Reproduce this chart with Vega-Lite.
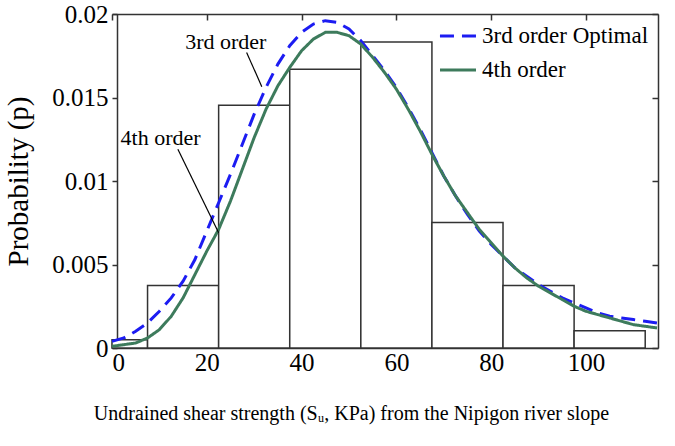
{
  "$schema": "https://vega.github.io/schema/vega-lite/v6.json",
  "width": 546,
  "height": 334,
  "autosize": {"type": "none"},
  "padding": {"left": 112, "top": 14, "right": 17, "bottom": 98},
  "background": "white",
  "config": {
    "view": {"stroke": null},
    "font": "'Liberation Serif', 'Times New Roman', serif",
    "axis": {
      "labelFont": "'Liberation Serif', 'Times New Roman', serif",
      "titleFont": "'Liberation Serif', 'Times New Roman', serif",
      "labelColor": "black",
      "titleColor": "black",
      "domainColor": "#333333",
      "tickColor": "#333333",
      "domainWidth": 1.5,
      "tickWidth": 1.5,
      "grid": false,
      "labelFontSize": 25,
      "titleFontWeight": "normal"
    },
    "legend": {
      "labelFont": "'Liberation Serif', 'Times New Roman', serif"
    },
    "text": {"font": "'Liberation Serif', 'Times New Roman', serif"}
  },
  "datasets": {
    "bins": [
      {"lo": 0, "hi": 7.5, "p": 0.0005},
      {"lo": 7.5, "hi": 22.5, "p": 0.00374},
      {"lo": 22.5, "hi": 37.5, "p": 0.01453},
      {"lo": 37.5, "hi": 52.5, "p": 0.01669},
      {"lo": 52.5, "hi": 67.5, "p": 0.01832},
      {"lo": 67.5, "hi": 82.5, "p": 0.00751},
      {"lo": 82.5, "hi": 97.5, "p": 0.00374},
      {"lo": 97.5, "hi": 112.5, "p": 0.00104}
    ],
    "curves": [
      {"s": 0, "series": "3rd order Optimal", "p": 0.0004},
      {"s": 2.5, "series": "3rd order Optimal", "p": 0.0006},
      {"s": 5, "series": "3rd order Optimal", "p": 0.0010},
      {"s": 7.5, "series": "3rd order Optimal", "p": 0.0015},
      {"s": 10, "series": "3rd order Optimal", "p": 0.0022},
      {"s": 12.5, "series": "3rd order Optimal", "p": 0.0030},
      {"s": 15, "series": "3rd order Optimal", "p": 0.0040},
      {"s": 17.5, "series": "3rd order Optimal", "p": 0.0053},
      {"s": 20, "series": "3rd order Optimal", "p": 0.0070},
      {"s": 22.5, "series": "3rd order Optimal", "p": 0.0087},
      {"s": 25, "series": "3rd order Optimal", "p": 0.0104},
      {"s": 27.5, "series": "3rd order Optimal", "p": 0.0122},
      {"s": 30, "series": "3rd order Optimal", "p": 0.0140},
      {"s": 32.5, "series": "3rd order Optimal", "p": 0.0156},
      {"s": 35, "series": "3rd order Optimal", "p": 0.0170},
      {"s": 37.5, "series": "3rd order Optimal", "p": 0.0181},
      {"s": 40, "series": "3rd order Optimal", "p": 0.0189},
      {"s": 42.5, "series": "3rd order Optimal", "p": 0.0194},
      {"s": 45, "series": "3rd order Optimal", "p": 0.0196},
      {"s": 47.5, "series": "3rd order Optimal", "p": 0.0195},
      {"s": 50, "series": "3rd order Optimal", "p": 0.0191},
      {"s": 52.5, "series": "3rd order Optimal", "p": 0.0184},
      {"s": 55, "series": "3rd order Optimal", "p": 0.0175},
      {"s": 57.5, "series": "3rd order Optimal", "p": 0.0166},
      {"s": 60, "series": "3rd order Optimal", "p": 0.0156},
      {"s": 62.5, "series": "3rd order Optimal", "p": 0.0144},
      {"s": 65, "series": "3rd order Optimal", "p": 0.0131},
      {"s": 67.5, "series": "3rd order Optimal", "p": 0.0117},
      {"s": 70, "series": "3rd order Optimal", "p": 0.0103},
      {"s": 72.5, "series": "3rd order Optimal", "p": 0.0091},
      {"s": 75, "series": "3rd order Optimal", "p": 0.0080},
      {"s": 77.5, "series": "3rd order Optimal", "p": 0.0070},
      {"s": 80, "series": "3rd order Optimal", "p": 0.0062},
      {"s": 82.5, "series": "3rd order Optimal", "p": 0.0055},
      {"s": 85, "series": "3rd order Optimal", "p": 0.0048},
      {"s": 87.5, "series": "3rd order Optimal", "p": 0.0043},
      {"s": 90, "series": "3rd order Optimal", "p": 0.0038},
      {"s": 92.5, "series": "3rd order Optimal", "p": 0.0034},
      {"s": 95, "series": "3rd order Optimal", "p": 0.0030},
      {"s": 97.5, "series": "3rd order Optimal", "p": 0.0027},
      {"s": 100, "series": "3rd order Optimal", "p": 0.0024},
      {"s": 102.5, "series": "3rd order Optimal", "p": 0.0021},
      {"s": 105, "series": "3rd order Optimal", "p": 0.0019},
      {"s": 107.5, "series": "3rd order Optimal", "p": 0.0018},
      {"s": 110, "series": "3rd order Optimal", "p": 0.0017},
      {"s": 112.5, "series": "3rd order Optimal", "p": 0.0016},
      {"s": 115, "series": "3rd order Optimal", "p": 0.0015},
      {"s": 0, "series": "4th order", "p": 0.0001},
      {"s": 2.5, "series": "4th order", "p": 0.0002},
      {"s": 5, "series": "4th order", "p": 0.0003},
      {"s": 7.5, "series": "4th order", "p": 0.0006},
      {"s": 10, "series": "4th order", "p": 0.0011},
      {"s": 12.5, "series": "4th order", "p": 0.0019},
      {"s": 15, "series": "4th order", "p": 0.0030},
      {"s": 17.5, "series": "4th order", "p": 0.0044},
      {"s": 20, "series": "4th order", "p": 0.0058},
      {"s": 22.5, "series": "4th order", "p": 0.0071},
      {"s": 25, "series": "4th order", "p": 0.0088},
      {"s": 27.5, "series": "4th order", "p": 0.0107},
      {"s": 30, "series": "4th order", "p": 0.0126},
      {"s": 32.5, "series": "4th order", "p": 0.0143},
      {"s": 35, "series": "4th order", "p": 0.0157},
      {"s": 37.5, "series": "4th order", "p": 0.0168},
      {"s": 40, "series": "4th order", "p": 0.0178},
      {"s": 42.5, "series": "4th order", "p": 0.0185},
      {"s": 45, "series": "4th order", "p": 0.0189},
      {"s": 47.5, "series": "4th order", "p": 0.0189},
      {"s": 50, "series": "4th order", "p": 0.0187},
      {"s": 52.5, "series": "4th order", "p": 0.0182},
      {"s": 55, "series": "4th order", "p": 0.0174},
      {"s": 57.5, "series": "4th order", "p": 0.0165},
      {"s": 60, "series": "4th order", "p": 0.0155},
      {"s": 62.5, "series": "4th order", "p": 0.0143},
      {"s": 65, "series": "4th order", "p": 0.0130},
      {"s": 67.5, "series": "4th order", "p": 0.0116},
      {"s": 70, "series": "4th order", "p": 0.0103},
      {"s": 72.5, "series": "4th order", "p": 0.0091},
      {"s": 75, "series": "4th order", "p": 0.0081},
      {"s": 77.5, "series": "4th order", "p": 0.0071},
      {"s": 80, "series": "4th order", "p": 0.0063},
      {"s": 82.5, "series": "4th order", "p": 0.0055},
      {"s": 85, "series": "4th order", "p": 0.0048},
      {"s": 87.5, "series": "4th order", "p": 0.0042},
      {"s": 90, "series": "4th order", "p": 0.0037},
      {"s": 92.5, "series": "4th order", "p": 0.0033},
      {"s": 95, "series": "4th order", "p": 0.0029},
      {"s": 97.5, "series": "4th order", "p": 0.0025},
      {"s": 100, "series": "4th order", "p": 0.0022},
      {"s": 102.5, "series": "4th order", "p": 0.0020},
      {"s": 105, "series": "4th order", "p": 0.0018},
      {"s": 107.5, "series": "4th order", "p": 0.0016},
      {"s": 110, "series": "4th order", "p": 0.0014},
      {"s": 112.5, "series": "4th order", "p": 0.0013},
      {"s": 115, "series": "4th order", "p": 0.0012}
    ],
    "notes": [
      {"label": "3rd order", "tx": 24.0, "ty": 0.0183, "x1": 28.4, "y1": 0.0177, "x2": 31.6, "y2": 0.01565},
      {"label": "4th order", "tx": 10.25, "ty": 0.0126, "x1": 13.9, "y1": 0.0119, "x2": 22.5, "y2": 0.0069}
    ]
  },
  "layer": [
    {
      "data": {"name": "bins"},
      "mark": {"type": "rect", "fill": "white", "stroke": "#333333", "strokeWidth": 1.5},
      "encoding": {
        "x": {
          "field": "lo", "type": "quantitative",
          "scale": {"domain": [0, 115.2], "nice": false, "zero": false},
          "axis": {
            "orient": "bottom", "values": [0, 20, 40, 60, 80, 100],
            "tickSize": -6, "labelPadding": 8,
            "title": "Undrained shear strength (Sᵤ, KPa) from the Nipigon river slope",
            "titleFontSize": 20, "titlePadding": 28,
            "titleX": 239, "titleAlign": "center", "titleAnchor": null
          }
        },
        "x2": {"field": "hi"},
        "y": {
          "field": "p", "type": "quantitative",
          "scale": {"domain": [0, 0.02], "nice": false},
          "axis": {
            "orient": "left", "values": [0, 0.005, 0.01, 0.015, 0.02],
            "format": "~g", "offset": -5, "tickSize": 5, "labelPadding": 4,
            "title": "Probability (p)", "titleFontSize": 29, "titlePadding": 18
          }
        },
        "y2": {"datum": 0}
      }
    },
    {
      "data": {"name": "curves"},
      "mark": {"type": "line", "strokeWidth": 3},
      "encoding": {
        "x": {
          "field": "s", "type": "quantitative",
          "axis": {"orient": "top", "values": [0, 20, 40, 60, 80, 100], "labels": false, "tickSize": -6, "title": null}
        },
        "y": {
          "field": "p", "type": "quantitative",
          "axis": {"orient": "right", "values": [0, 0.005, 0.01, 0.015, 0.02], "labels": false, "tickSize": -6, "title": null}
        },
        "color": {
          "field": "series", "type": "nominal",
          "scale": {"domain": ["3rd order Optimal", "4th order"], "range": ["#1c1cf2", "#3d7b5c"]},
          "legend": {
            "orient": "none", "legendX": 326, "legendY": 2, "title": null,
            "symbolType": "stroke", "symbolSize": 1300, "symbolStrokeWidth": 3,
            "labelFont": "'Liberation Serif', 'Times New Roman', serif", "labelFontSize": 23, "labelColor": "black", "labelLimit": 300
          }
        },
        "strokeDash": {
          "field": "series", "type": "nominal",
          "scale": {"domain": ["3rd order Optimal", "4th order"], "range": [[14, 8], [1, 0]]},
          "legend": {
            "orient": "none", "legendX": 326, "legendY": 2, "title": null,
            "symbolType": "stroke", "symbolSize": 1300, "symbolStrokeWidth": 3,
            "labelFont": "'Liberation Serif', 'Times New Roman', serif", "labelFontSize": 23, "labelColor": "black", "labelLimit": 300
          }
        }
      }
    },
    {
      "data": {"name": "notes"},
      "mark": {"type": "rule", "color": "black", "strokeWidth": 1.2},
      "encoding": {
        "x": {"field": "x1", "type": "quantitative", "axis": null},
        "y": {"field": "y1", "type": "quantitative", "axis": null},
        "x2": {"field": "x2"},
        "y2": {"field": "y2"}
      }
    },
    {
      "data": {"name": "notes"},
      "mark": {"type": "text", "font": "'Liberation Serif', 'Times New Roman', serif", "fontSize": 22, "color": "black", "align": "center", "baseline": "middle"},
      "encoding": {
        "x": {"field": "tx", "type": "quantitative", "axis": null},
        "y": {"field": "ty", "type": "quantitative", "axis": null},
        "text": {"field": "label"}
      }
    }
  ],
  "resolve": {"axis": {"x": "independent", "y": "independent"}}
}
